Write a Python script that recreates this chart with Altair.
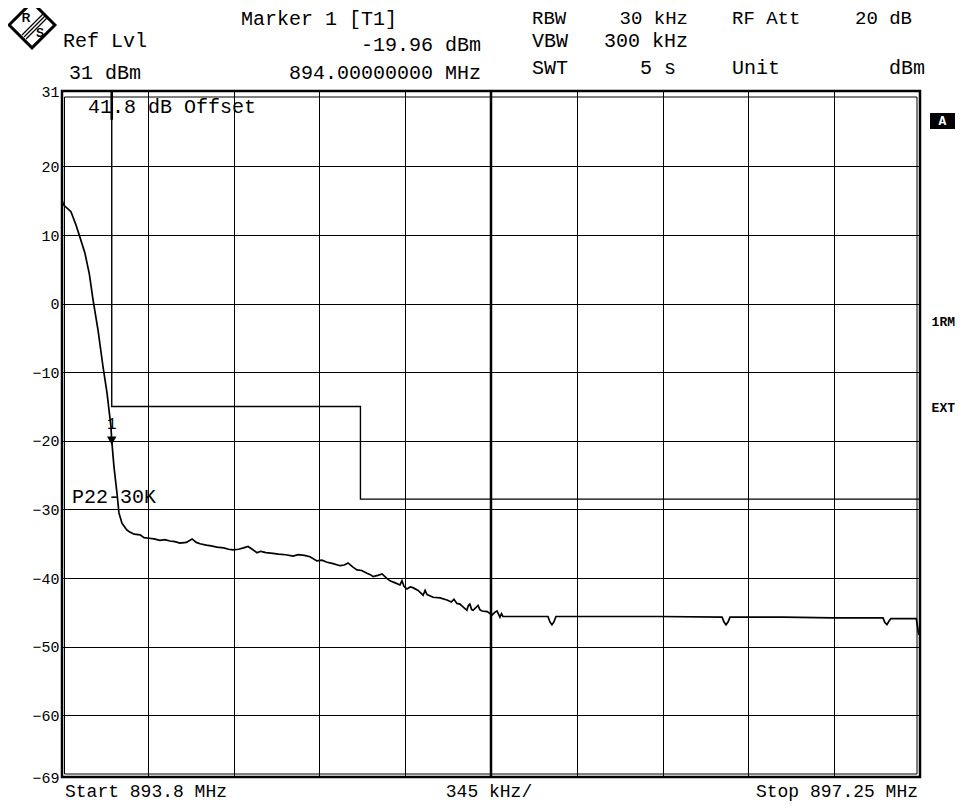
import altair as alt
import pandas as pd

FONT = "Liberation Mono"

# ---- axes / ranges ----
START_MHZ = 893.8
STOP_MHZ = 897.25
REF_DBM = 31
BOTTOM_DBM = -69
Y_TICKS = [31, 20, 10, 0, -10, -20, -30, -40, -50, -60, -69]
X_GRID = [893.8, 894.145, 894.49, 894.835, 895.18, 895.525, 895.87, 896.215,
          896.56, 896.905, 897.25]
CENTER_MHZ = [895.525]

trace_freq = [
    893.800, 893.806, 893.836, 893.856, 893.872, 893.892, 893.910, 893.925,
    893.945, 893.965, 893.981, 893.997, 894.000, 894.009, 894.021, 894.029,
    894.041, 894.061, 894.073, 894.090, 894.114, 894.130, 894.150, 894.170,
    894.194, 894.214, 894.234, 894.254, 894.274, 894.300, 894.323, 894.340,
    894.355, 894.380, 894.400, 894.423, 894.450, 894.470, 894.488, 894.510,
    894.530, 894.548, 894.565, 894.584, 894.600, 894.620, 894.648, 894.670,
    894.700, 894.729, 894.750, 894.775, 894.797, 894.825, 894.845, 894.866,
    894.890, 894.918, 894.935, 894.950, 894.970, 894.986, 895.005, 895.026,
    895.040, 895.051, 895.070, 895.087, 895.105, 895.119, 895.140, 895.159,
    895.167, 895.175, 895.187, 895.200, 895.211, 895.232, 895.252, 895.260,
    895.268, 895.292, 895.320, 895.348, 895.365, 895.376, 895.388, 895.400,
    895.428, 895.434, 895.440, 895.447, 895.453, 895.473, 895.480, 895.489,
    895.510, 895.529, 895.540, 895.549, 895.561, 895.567, 895.573, 895.589,
    895.650, 895.754, 895.762, 895.770, 895.778, 895.786, 896.000, 896.200,
    896.454, 896.462, 896.470, 896.478, 896.486, 896.700, 896.900, 897.101,
    897.109, 897.117, 897.125, 897.133, 897.235, 897.245,
]
trace_level = [
    15.1, 14.4, 13.4, 11.5, 9.7, 7.4, 4.3, 0.5,
    -3.9, -9.2, -13.0, -18.0, -19.96, -23.8, -27.6, -30.5,
    -32.0, -33.0, -33.3, -33.6, -33.7, -34.1, -34.2, -34.3,
    -34.5, -34.4, -34.6, -34.7, -34.9, -34.8, -34.3, -34.8,
    -35.0, -35.2, -35.3, -35.5, -35.6, -35.8, -35.9, -35.8,
    -35.6, -35.4, -35.8, -36.3, -36.1, -36.3, -36.4, -36.5,
    -36.6, -36.8, -36.6, -36.7, -36.9, -37.5, -37.4, -37.7,
    -37.9, -38.2, -38.1, -37.8, -38.4, -38.8, -38.9, -39.3,
    -39.5, -39.8, -39.6, -39.4, -40.0, -40.4, -40.7, -41.0,
    -40.4, -41.2, -41.6, -41.3, -41.4, -41.8, -42.5, -41.8,
    -42.4, -42.8, -42.9, -43.2, -43.5, -43.1, -43.7, -43.8,
    -44.7, -44.0, -43.8, -44.6, -44.7, -44.0, -44.6, -44.8,
    -44.9, -45.4, -45.0, -44.8, -45.7, -45.2, -45.6, -45.6,
    -45.6, -45.6, -46.4, -46.8, -46.4, -45.6, -45.6, -45.6,
    -45.7, -46.4, -46.8, -46.4, -45.7, -45.7, -45.8, -45.8,
    -46.5, -46.8, -46.3, -45.9, -45.9, -48.3,
]

# ---- limit line P22-30K ----
limit_freq = [894.0, 894.0, 895.0, 895.0, 897.25]
limit_level = [31, -15, -15, -28.5, -28.5]

# ---- marker 1 ----
marker_freq = [894.0]
marker_level = [-19.96]
marker_label = ["1"]
marker_line_top = [31]
marker_line_bottom = [26.8]

W, H = 858, 686
OX, OY = 62, 91  # page position of plot origin

xscale = alt.Scale(domain=[START_MHZ, STOP_MHZ], nice=False, zero=False)
yscale = alt.Scale(domain=[BOTTOM_DBM, REF_DBM], nice=False, zero=False)

x_axis = alt.Axis(values=X_GRID, labels=False, ticks=False, domain=False, title=None,
                  grid=True, gridColor="black", gridWidth=1, gridOpacity=1)
y_axis = alt.Axis(values=Y_TICKS, ticks=False, domain=False, title=None,
                  grid=True, gridColor="black", gridWidth=1, gridOpacity=1,
                  labelFont=FONT, labelFontSize=15, labelColor="black",
                  labelPadding=3, labelFlush=False)

df_trace = pd.DataFrame({"f": trace_freq, "l": trace_level,
                         "i": list(range(len(trace_freq)))})
df_limit = pd.DataFrame({"f": limit_freq, "l": limit_level,
                         "i": list(range(len(limit_freq)))})
df_marker = pd.DataFrame({"f": marker_freq, "l": marker_level, "t": marker_label,
                          "top": marker_line_top, "bot": marker_line_bottom})
df_center = pd.DataFrame({"f": CENTER_MHZ})

base_grid = alt.Chart(df_center).mark_rule(color="black", strokeWidth=2.5).encode(
    x=alt.X("f:Q", scale=xscale, axis=x_axis),
    y=alt.value(0), y2=alt.value(H),
)
ygrid = alt.Chart(df_limit).mark_line(opacity=0).encode(
    x=alt.X("f:Q", scale=xscale, axis=x_axis),
    y=alt.Y("l:Q", scale=yscale, axis=y_axis),
)

limit = alt.Chart(df_limit).mark_line(color="black", strokeWidth=1.4).encode(
    x=alt.X("f:Q", scale=xscale),
    y=alt.Y("l:Q", scale=yscale),
    order="i:Q",
)

marker_stub = alt.Chart(df_marker).mark_rule(color="black", strokeWidth=2.6).encode(
    x=alt.X("f:Q", scale=xscale),
    y=alt.Y("top:Q", scale=yscale),
    y2="bot:Q",
)

trace = alt.Chart(df_trace).mark_line(color="black", strokeWidth=1.7, clip=True).encode(
    x=alt.X("f:Q", scale=xscale),
    y=alt.Y("l:Q", scale=yscale),
    order="i:Q",
)

marker = alt.Chart(df_marker).mark_point(shape="triangle-down", filled=True, size=90,
                                         color="black", opacity=1).encode(
    x=alt.X("f:Q", scale=xscale),
    y=alt.Y("l:Q", scale=yscale),
)
marker_txt = alt.Chart(df_marker).mark_text(font=FONT, fontSize=16, dy=-17,
                                            color="black").encode(
    x=alt.X("f:Q", scale=xscale),
    y=alt.Y("l:Q", scale=yscale),
    text="t:N",
)


def txt(s, x, y, align="left", size=20, weight="normal", color="black", font=FONT,
        baseline="middle"):
    return alt.Chart(pd.DataFrame({"t": [s]})).mark_text(
        align=align, baseline=baseline, fontSize=size, font=font,
        fontWeight=weight, color=color,
    ).encode(x=alt.value(x - OX), y=alt.value(y - OY), text="t:N")


def rule(x1, y1, x2, y2, w=1.0):
    return alt.Chart(pd.DataFrame({"a": [0]})).mark_rule(
        color="black", strokeWidth=w).encode(
        x=alt.value(x1 - OX), y=alt.value(y1 - OY),
        x2=alt.value(x2 - OX), y2=alt.value(y2 - OY))


texts = [
    txt("Marker 1 [T1]", 241, 19),
    txt("Ref Lvl", 63, 41),
    txt("-19.96 dBm", 481, 45, "right"),
    txt("31 dBm", 69, 73),
    txt("894.00000000 MHz", 481, 73, "right"),
    txt("RBW", 532, 17.5, size=19),
    txt("30 kHz", 688, 17.5, "right", size=19),
    txt("RF Att", 732, 17.5, size=19),
    txt("20 dB", 912, 17.5, "right", size=19),
    txt("VBW", 532, 41),
    txt("300 kHz", 688, 41, "right"),
    txt("SWT", 532, 68),
    txt("5 s", 676, 68, "right"),
    txt("Unit", 732, 68),
    txt("dBm", 925, 68, "right"),
    txt("Start 893.8 MHz", 65, 797, size=18, baseline="alphabetic"),
    txt("345 kHz/", 489, 797, "center", size=18, baseline="alphabetic"),
    txt("Stop 897.25 MHz", 918, 797, "right", size=18, baseline="alphabetic"),
    txt("41.8 dB Offset", 88, 107),
    txt("P22-30K", 72, 497),
    txt("1RM", 955, 322, "right", size=13, weight="bold"),
    txt("EXT", 955, 408, "right", size=13, weight="bold"),
]

a_box = alt.Chart(pd.DataFrame({"a": [0]})).mark_rect(color="black").encode(
    x=alt.value(930 - OX), x2=alt.value(955 - OX),
    y=alt.value(113 - OY), y2=alt.value(129 - OY))
a_txt = txt("A", 942.5, 121, "center", size=13, weight="bold", color="white")

# inner frame lines (double border)
frame = [
    rule(64.5, 97, 64.5, 774),
    rule(917, 97, 917, 774),
    rule(64.5, 97, 917, 97),
    rule(64.5, 774, 917, 774),
]

# R&S logo
logo_diamond = alt.Chart(pd.DataFrame({"a": [0]})).mark_point(
    shape="diamond", size=2100, filled=False, color="black", strokeWidth=3,
    opacity=1).encode(x=alt.value(32 - OX), y=alt.value(25 - OY))
logo = [
    logo_diamond,
    rule(22, 35, 43, 14, 1.2),
    rule(24, 37, 45, 16, 1.2),
    rule(26, 39, 47, 18, 1.2),
    txt("R", 26, 18, "center", size=12, weight="bold", font="Liberation Sans"),
    txt("S", 40, 33, "center", size=12, weight="bold", font="Liberation Sans"),
]

chart = alt.layer(
    ygrid, base_grid, limit, marker_stub, trace, marker, marker_txt,
    *frame, a_box, a_txt, *texts, *logo,
).properties(
    width=W, height=H,
    autosize=alt.AutoSizeParams(type="none"),
    padding={"left": OX - 8, "top": OY - 8, "right": 35, "bottom": 25},
    background="white",
).configure_view(
    stroke="black", strokeWidth=2.5,
)

chart.save("out.html", embed_options={"renderer": "svg", "actions": False})
